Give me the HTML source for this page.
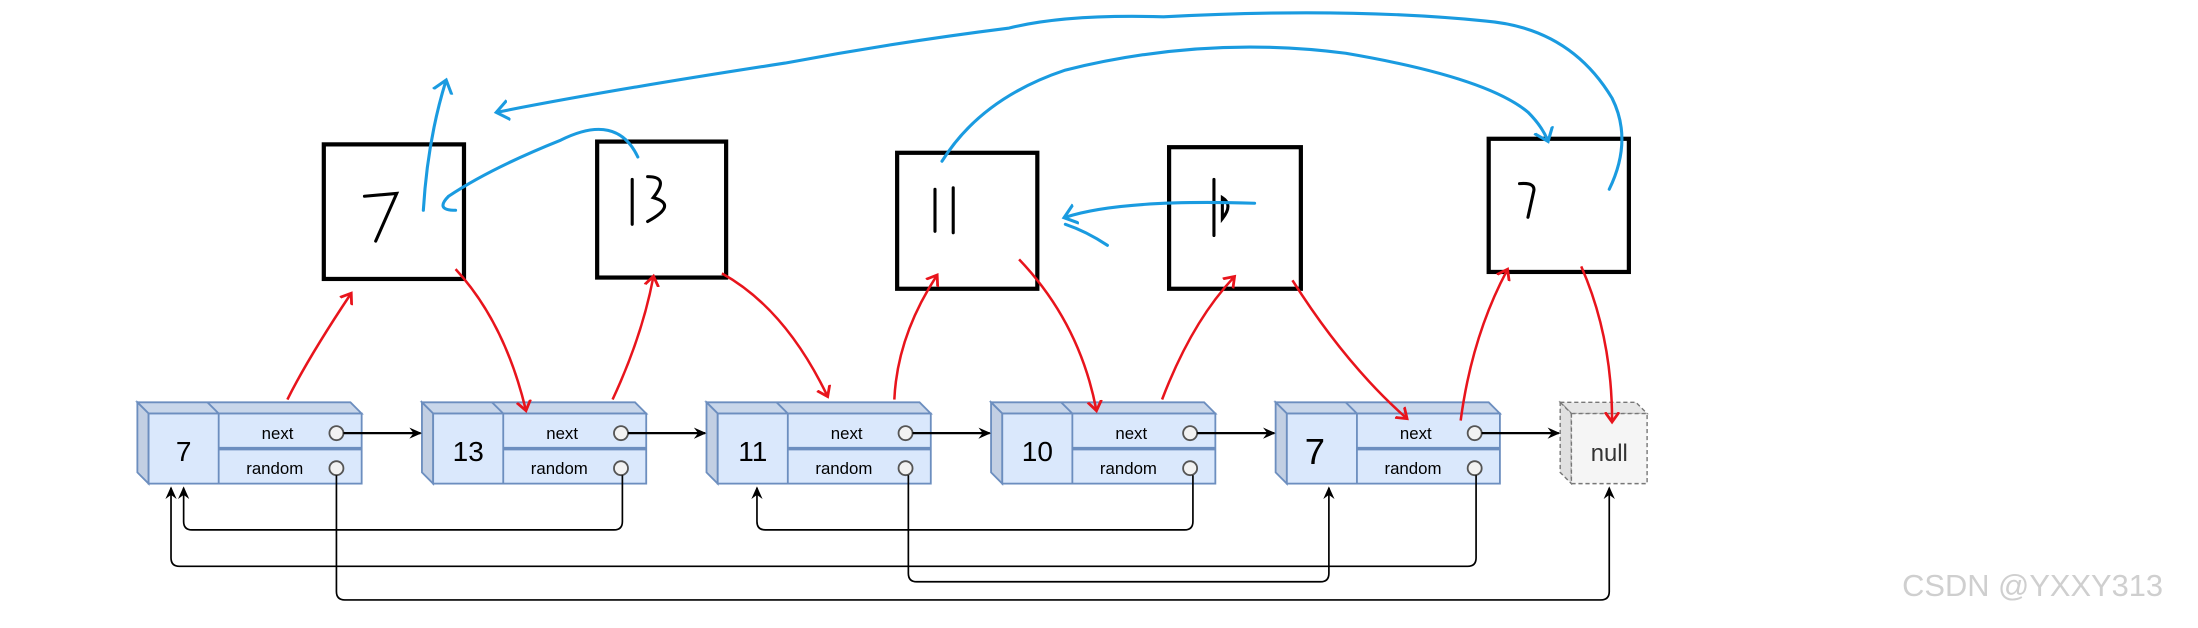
<!DOCTYPE html>
<html><head><meta charset="utf-8"><style>
html,body{margin:0;padding:0;background:#fff;width:2198px;height:628px;overflow:hidden}
svg{display:block}
text{font-family:"Liberation Sans",sans-serif}
</style></head><body>
<svg width="2198" height="628" viewBox="0 0 1568 448" xmlns="http://www.w3.org/2000/svg">
<defs>
<marker id="ab" markerWidth="10" markerHeight="10" refX="8" refY="5" orient="auto" markerUnits="userSpaceOnUse"><path d="M0,1 L9,5 L0,9 L3,5 Z" fill="#000"/></marker>
<marker id="ar" markerWidth="12" markerHeight="12" refX="6" refY="6" orient="auto" markerUnits="userSpaceOnUse"><path d="M0,1 L7,6 L0,11" fill="none" stroke="#e8141c" stroke-width="2"/></marker>
<marker id="abl" markerWidth="16" markerHeight="16" refX="8" refY="8" orient="auto" markerUnits="userSpaceOnUse"><path d="M0,1 L9,8 L0,15" fill="none" stroke="#1a9be0" stroke-width="2.2"/></marker>
</defs>

<!-- hand-drawn boxes -->
<g fill="none" stroke="#000" stroke-width="3">
<rect x="231" y="103" width="100" height="96"/>
<rect x="426" y="101" width="92" height="97"/>
<rect x="640" y="109" width="100" height="97"/>
<rect x="834" y="105" width="94" height="101"/>
<rect x="1062" y="99" width="100" height="95"/>
</g>
<g fill="none" stroke="#000" stroke-width="2.2" stroke-linecap="round">
<path d="M260,140 L283,138 L268,172"/>
<path d="M451,128 L451,160 M462,126 Q478,126 466,141 Q484,146 462,158"/>
<path d="M667,135 L667,165 M680,134 L680,166"/>
<path d="M866,128 L866,168 M872,141 Q880,146 872,156 Z"/>
<path d="M1084,131 Q1096,130 1094,137 L1090,155"/>
</g>

<!-- linked list nodes -->
<g font-family="Liberation Sans, sans-serif">
<g id="n">
</g>
</g>
<g stroke="#6c8ebf" stroke-width="1.3">
<!-- node template drawn 5 times -->
<g id="node">
<polygon points="98,287 250,287 258,295 106,295" fill="#c8d6ea"/>
<polygon points="98,287 106,295 106,345 98,337" fill="#c2cfe3"/>
<rect x="106" y="295" width="152" height="50" fill="#dae8fc"/>
<line x1="156" y1="295" x2="156" y2="345"/>
<line x1="148" y1="287" x2="156" y2="295"/>
<line x1="156" y1="320" x2="258" y2="320" stroke-width="2.5"/>
<circle cx="240" cy="309" r="5" fill="#f2f2f2" stroke="#555"/>
<circle cx="240" cy="334" r="5" fill="#f2f2f2" stroke="#555"/>
</g>
<use href="#node" x="203"/>
<use href="#node" x="406"/>
<use href="#node" x="609"/>
<use href="#node" x="812"/>
</g>
<g font-size="12" text-anchor="middle" fill="#000">
<text x="198" y="313">next</text><text x="196" y="338">random</text>
<text x="401" y="313">next</text><text x="399" y="338">random</text>
<text x="604" y="313">next</text><text x="602" y="338">random</text>
<text x="807" y="313">next</text><text x="805" y="338">random</text>
<text x="1010" y="313">next</text><text x="1008" y="338">random</text>
</g>
<g font-size="20" text-anchor="middle" fill="#000">
<text x="131" y="329">7</text>
<text x="334" y="329">13</text>
<text x="537" y="329">11</text>
<text x="740" y="329">10</text>
<text x="938" y="331" font-size="26">7</text>
</g>
<!-- null -->
<polygon points="1113,287 1167,287 1175,295 1121,295" fill="#e6e6e6" stroke="#777" stroke-dasharray="3,2"/>
<polygon points="1113,287 1121,295 1121,345 1113,337" fill="#e0e0e0" stroke="#777" stroke-dasharray="3,2"/>
<rect x="1121" y="295" width="54" height="50" fill="#f5f5f5" stroke="#777" stroke-dasharray="3,2"/>
<text x="1148" y="329" font-size="17" text-anchor="middle" fill="#333">null</text>

<!-- next arrows -->
<g stroke="#000" stroke-width="1.6" marker-end="url(#ab)">
<line x1="245" y1="309" x2="300" y2="309"/>
<line x1="448" y1="309" x2="503" y2="309"/>
<line x1="651" y1="309" x2="706" y2="309"/>
<line x1="854" y1="309" x2="909" y2="309"/>
<line x1="1057" y1="309" x2="1112" y2="309"/>
</g>
<!-- random arrows -->
<g stroke="#000" stroke-width="1.2" fill="none" marker-end="url(#ab)">
<path d="M240,339 L240,422 Q240,428 246,428 L1142,428 Q1148,428 1148,422 L1148,348"/>
<path d="M444,339 L444,372 Q444,378 438,378 L137,378 Q131,378 131,372 L131,348"/>
<path d="M648,339 L648,409 Q648,415 654,415 L942,415 Q948,415 948,409 L948,348"/>
<path d="M851,339 L851,372 Q851,378 845,378 L546,378 Q540,378 540,372 L540,348"/>
<path d="M1053,339 L1053,398 Q1053,404 1047,404 L128,404 Q122,404 122,398 L122,348"/>
</g>

<!-- red hand arrows -->
<g stroke="#e8141c" stroke-width="1.8" fill="none" marker-end="url(#ar)">
<path d="M205,285 Q220,255 250,210"/>
<path d="M325,192 Q360,230 375,292"/>
<path d="M437,285 Q458,240 466,198"/>
<path d="M515,195 Q560,220 590,282"/>
<path d="M638,285 Q640,240 668,197"/>
<path d="M727,185 Q770,230 782,292"/>
<path d="M829,285 Q850,230 880,198"/>
<path d="M922,200 Q960,260 1003,298"/>
<path d="M1042,300 Q1050,240 1075,193"/>
<path d="M1128,190 Q1150,240 1150,300"/>
</g>

<!-- blue hand arrows -->
<g stroke="#1a9be0" stroke-width="2.2" fill="none" stroke-linecap="round">
<path d="M302,150 Q305,100 318,58" marker-end="url(#abl)"/>
<path d="M455,112 Q440,80 400,100 Q350,120 320,140 Q310,150 325,150"/>
<path d="M1148,135 Q1165,100 1150,70 Q1120,20 1060,15 Q960,5 830,12 Q760,10 720,20 Q640,30 560,45 Q430,65 355,80" marker-end="url(#abl)"/>
<path d="M672,115 Q700,70 760,50 Q860,25 960,38 Q1060,55 1090,80 Q1100,90 1104,100" marker-end="url(#abl)"/>
<path d="M895,145 Q800,142 760,155" marker-end="url(#abl)"/>
<path d="M760,160 Q775,165 790,175"/>
</g>

<text x="1450" y="425" font-size="22" text-anchor="middle" fill="#cfcfcf">CSDN @YXXY313</text>
</svg>
</body></html>
